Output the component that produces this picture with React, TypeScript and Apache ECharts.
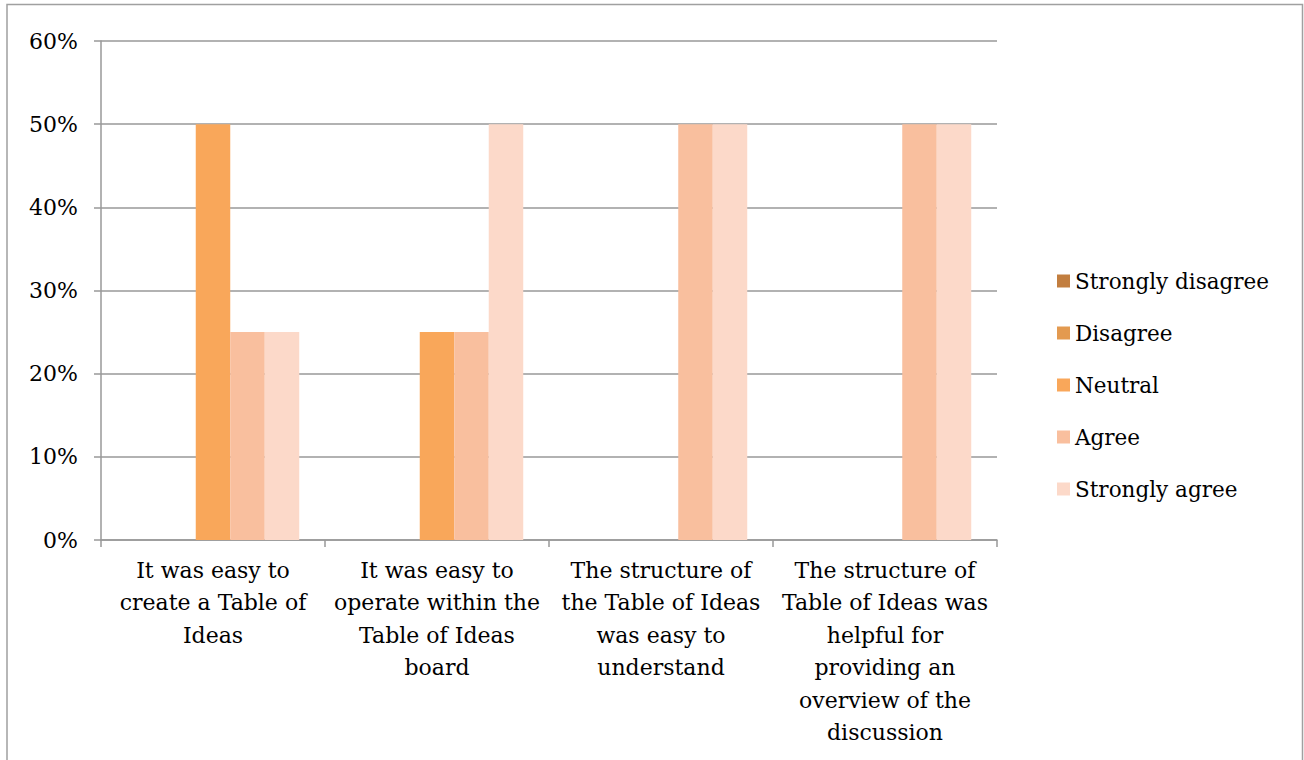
import React, { useEffect, useRef } from "react";
import * as echarts from "echarts";

const categories = [
  "It was easy to\ncreate a Table of\nIdeas",
  "It was easy to\noperate within the\nTable of Ideas\nboard",
  "The structure of\nthe Table of Ideas\nwas easy to\nunderstand",
  "The structure of\nTable of Ideas was\nhelpful for\nproviding an\noverview of the\ndiscussion",
];
const seriesNames = ["Strongly disagree", "Disagree", "Neutral", "Agree", "Strongly agree"];
const stronglyDisagree = [0, 0, 0, 0];
const disagree = [0, 0, 0, 0];
const neutral = [0.5, 0.25, 0, 0];
const agree = [0.25, 0.25, 0.5, 0.5];
const stronglyAgree = [0.25, 0.5, 0.5, 0.5];
const colors = ["#C27E3F", "#E39A50", "#F9A75A", "#F9BF9E", "#FCD9C9"];

const FONT = "DejaVu Serif";

export default function App() {
  const ref = useRef<HTMLDivElement>(null);
  useEffect(() => {
    document.body.style.margin = "0";
    const chart = echarts.init(ref.current!, null, { renderer: "svg" });
    const values = [stronglyDisagree, disagree, neutral, agree, stronglyAgree];
    chart.setOption({
      animation: false,
      textStyle: { fontFamily: FONT },
      graphic: [
        {
          type: "polyline",
          silent: true,
          shape: {
            points: [
              [7, 780],
              [7, 4.5],
              [1302.5, 4.5],
              [1302.5, 780],
            ],
          },
          style: { stroke: "#A0A0A0", lineWidth: 1.5, fill: "rgba(0,0,0,0)" },
        },
      ],
      grid: { left: 101, right: 307, top: 41, bottom: 220 },
      legend: {
        orient: "vertical",
        left: 1052,
        top: 265,
        itemWidth: 13,
        itemHeight: 13,
        itemGap: 30,
        icon: "rect",
        textStyle: { fontFamily: FONT, fontSize: 21.5, color: "#000" },
        data: seriesNames,
      },
      xAxis: {
        type: "category",
        data: categories,
        axisLine: { lineStyle: { color: "#999", width: 1.5 } },
        axisTick: { show: true, length: 7, interval: 0, lineStyle: { color: "#999", width: 1.5 } },
        axisLabel: {
          interval: 0,
          fontFamily: FONT,
          fontSize: 22,
          color: "#000",
          lineHeight: 32.5,
          margin: 14,
        },
      },
      yAxis: {
        type: "value",
        min: 0,
        max: 0.6,
        interval: 0.1,
        axisLine: { show: true, lineStyle: { color: "#999", width: 1.5 } },
        axisTick: { show: true, length: 7, lineStyle: { color: "#999", width: 1.5 } },
        splitLine: { lineStyle: { color: "#999", width: 1.5 } },
        axisLabel: {
          fontFamily: FONT,
          fontSize: 22,
          color: "#000",
          margin: 23,
          formatter: (v: number) => Math.round(v * 100) + "%",
        },
      },
      series: seriesNames.map((name, i) => ({
        name,
        type: "bar",
        data: values[i],
        barGap: "0%",
        barCategoryGap: "23%",
        itemStyle: { color: colors[i] },
      })),
    });
    return () => chart.dispose();
  }, []);
  return <div ref={ref} style={{ width: 1304, height: 760 }} />;
}
